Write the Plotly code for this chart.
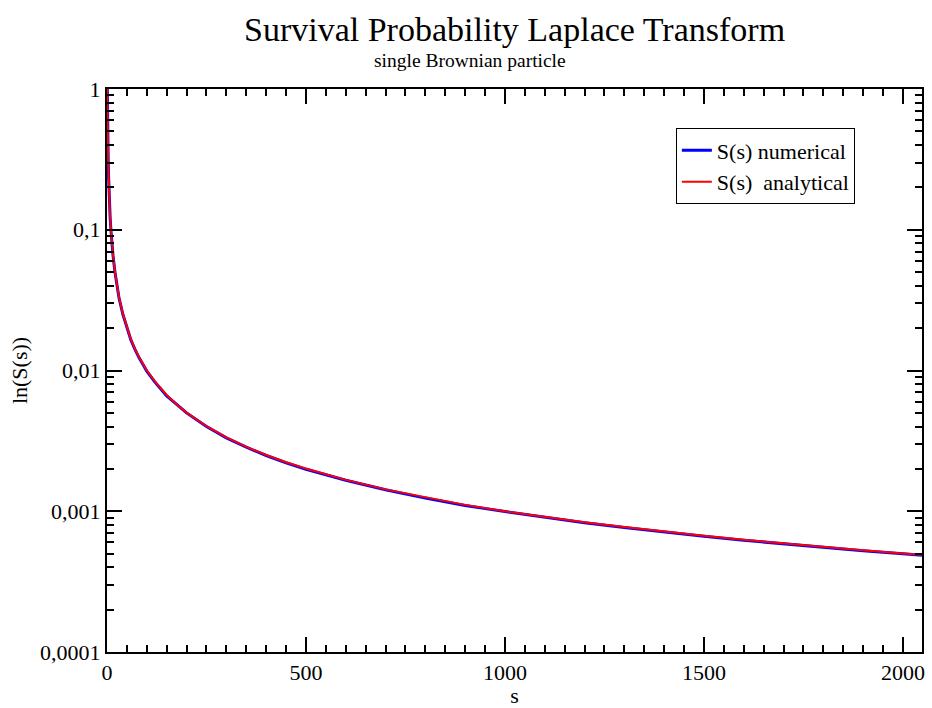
import plotly.graph_objects as go

# Laplace variable s and the survival probability transform S(s)
s_vals = [0.5, 1, 2, 3, 4, 5, 6, 8, 10, 12, 15, 20, 25, 30, 40, 50, 60, 70, 80,
          100, 120, 150, 175, 200, 250, 300, 350, 400, 450, 500, 600, 700, 800,
          900, 1000, 1100, 1200, 1300, 1400, 1500, 1600, 1700, 1800, 1900, 2000, 2050]

s_numerical = [1.2, 0.63, 0.43, 0.31, 0.24, 0.19, 0.16, 0.12, 0.098, 0.082, 0.066,
               0.050, 0.040, 0.033, 0.025, 0.0199, 0.0165, 0.0142, 0.0124, 0.0099,
               0.0083, 0.0066, 0.0057, 0.0050, 0.0040, 0.00332, 0.00285, 0.00249,
               0.00221, 0.00199, 0.00166, 0.00142, 0.00124, 0.00110, 0.000995,
               0.000905, 0.000830, 0.000766, 0.000711, 0.000664, 0.000622,
               0.000586, 0.000553, 0.000524, 0.000498, 0.000486]

s_analytical = [1.2, 0.63, 0.43, 0.31, 0.24, 0.19, 0.16, 0.12, 0.099, 0.083, 0.067,
                0.050, 0.040, 0.0334, 0.0251, 0.0201, 0.0167, 0.0143, 0.0125, 0.0100,
                0.0084, 0.0067, 0.00573, 0.00502, 0.00402, 0.00335, 0.00287, 0.00251,
                0.00223, 0.00201, 0.00167, 0.00143, 0.00126, 0.00111, 0.00100,
                0.000912, 0.000836, 0.000772, 0.000717, 0.000669, 0.000627,
                0.000590, 0.000557, 0.000528, 0.000502, 0.000490]

y_tickvals = [1, 0.1, 0.01, 0.001, 0.0001]
y_ticktext = ["1", "0,1", "0,01", "0,001", "0,0001"]
y_minor_vals = [m * 10.0 ** e for e in range(-4, 0) for m in range(2, 10)]
x_tickvals = [0, 500, 1000, 1500, 2000]

serif = "Liberation Serif, Times New Roman, serif"

fig = go.Figure()
fig.add_trace(go.Scatter(x=s_vals, y=s_numerical, mode="lines",
                         name="S(s) numerical",
                         line=dict(color="#0000ff", width=3)))
fig.add_trace(go.Scatter(x=s_vals, y=s_analytical, mode="lines",
                         name="S(s)  analytical",
                         line=dict(color="#ff0000", width=2)))

fig.update_layout(
    width=932, height=708,
    margin=dict(l=107, r=7, t=89, b=47),
    paper_bgcolor="white", plot_bgcolor="white",
    font=dict(family=serif, color="black"),
    showlegend=True,
    legend=dict(x=0.698, y=0.93, xanchor="left", yanchor="top",
                bgcolor="white", bordercolor="black", borderwidth=1,
                font=dict(family=serif, size=22, color="black"),
                tracegroupgap=0, itemwidth=30),
)
fig.add_annotation(text="Survival Probability Laplace Transform",
                   xref="paper", yref="paper", x=(516 - 107) / 818, y=1 + (89 - 29) / 572,
                   showarrow=False, xanchor="center", yanchor="middle",
                   font=dict(family=serif, size=34, color="black"))
fig.add_annotation(text="single Brownian particle",
                   xref="paper", yref="paper", x=(471 - 107) / 818, y=1 + (89 - 60) / 572,
                   showarrow=False, xanchor="center", yanchor="middle",
                   font=dict(family=serif, size=19.5, color="black"))

fig.update_xaxes(
    range=[0, 2048], tickvals=x_tickvals, ticks="inside", ticklen=15, tickwidth=1.5,
    tickcolor="black", showline=True, linecolor="black", linewidth=2,
    mirror="allticks", showgrid=False, zeroline=False,
    tickfont=dict(family=serif, size=22, color="black"),
    title=dict(text="s", font=dict(family=serif, size=22, color="black"), standoff=0),
    minor=dict(dtick=50, ticks="inside", ticklen=7, tickwidth=1.5, tickcolor="black",
               showgrid=False),
)
fig.update_yaxes(
    type="log", range=[-4, 0], tickvals=y_tickvals, ticktext=y_ticktext,
    ticks="inside", ticklen=15, tickwidth=1.5, tickcolor="black",
    showline=True, linecolor="black", linewidth=2, mirror="allticks",
    showgrid=False, zeroline=False,
    tickfont=dict(family=serif, size=22, color="black"),
    title=dict(text="ln(S(s))", font=dict(family=serif, size=22, color="black"), standoff=6),
    minor=dict(tickmode="array", tickvals=y_minor_vals, ticks="inside", ticklen=7,
               tickwidth=1.5, tickcolor="black", showgrid=False),
)

fig.write_html("out.html")
